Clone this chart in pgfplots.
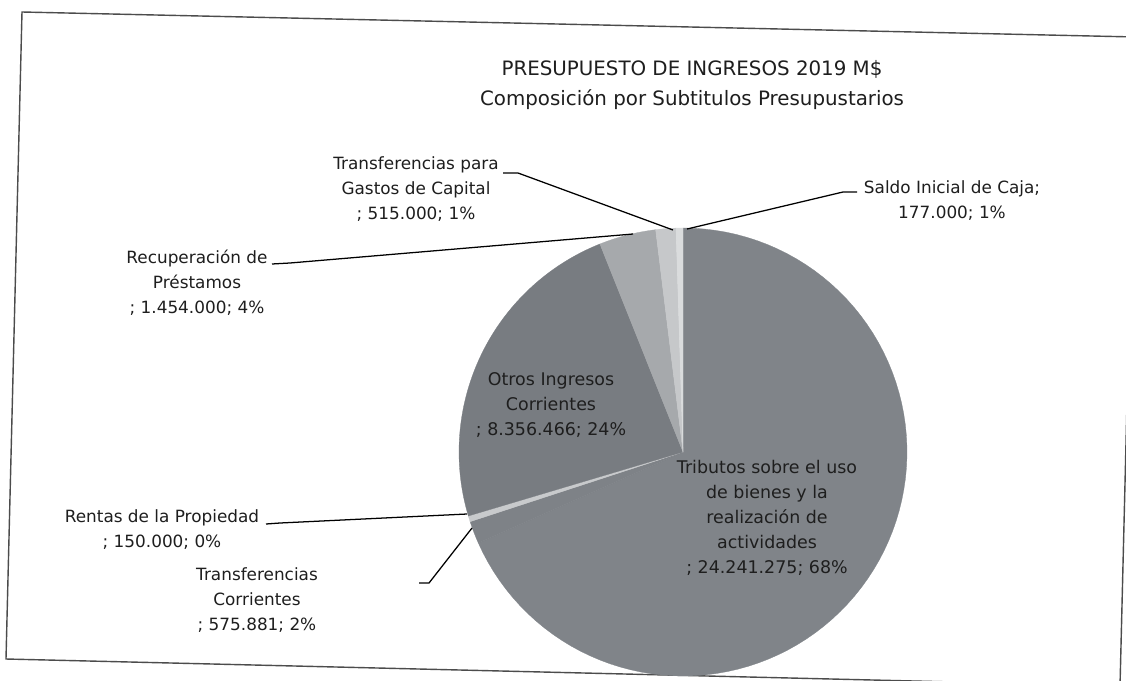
\documentclass[border=0pt]{standalone}
\usepackage{pgfplots}
\usepackage{pgfplotstable}
\pgfplotsset{compat=1.18}
\usepackage{fontspec}
\setmainfont{DejaVu Sans}

\definecolor{cTrib}{RGB}{128,132,137}
\definecolor{cTC}{RGB}{126,130,135}
\definecolor{cRentas}{RGB}{200,202,204}
\definecolor{cOtros}{RGB}{120,124,129}
\definecolor{cRecup}{RGB}{166,169,172}
\definecolor{cTCap}{RGB}{198,200,202}
\definecolor{cSaldo}{RGB}{218,220,221}
\definecolor{txt}{RGB}{30,30,30}

% values in millions of M$
\pgfplotstableread{
name value
Tributos 24.241275
TransfCorr 0.575881
Rentas 0.150000
Otros 8.356466
Recup 1.454000
TransfCap 0.515000
Saldo 0.177000
}\piedata

\newcommand\slice[3]{%
  \addplot[fill=#3, draw=#3, line width=0.2pt, domain=#2:#1, samples=90, variable=\t]
    ({683+224*cos(\t)},{452-224*sin(\t)}) -- (axis cs:683,452) -- cycle;}

\tikzset{lab/.style={font=\fontsize{12}{17.8}\selectfont, text=txt, align=center, inner sep=0pt}}

\begin{document}
\begin{tikzpicture}
\pgfplotstablegetelem{0}{value}\of\piedata\let\vA\pgfplotsretval
\pgfplotstablegetelem{1}{value}\of\piedata\let\vB\pgfplotsretval
\pgfplotstablegetelem{2}{value}\of\piedata\let\vC\pgfplotsretval
\pgfplotstablegetelem{3}{value}\of\piedata\let\vD\pgfplotsretval
\pgfplotstablegetelem{4}{value}\of\piedata\let\vE\pgfplotsretval
\pgfplotstablegetelem{5}{value}\of\piedata\let\vF\pgfplotsretval
\pgfplotstablegetelem{6}{value}\of\piedata\let\vG\pgfplotsretval
\pgfmathsetmacro\tot{\vA+\vB+\vC+\vD+\vE+\vF+\vG}
\pgfmathsetmacro\aA{90}
\pgfmathsetmacro\aB{\aA-360*\vA/\tot}
\pgfmathsetmacro\aC{\aB-360*\vB/\tot}
\pgfmathsetmacro\aD{\aC-360*\vC/\tot}
\pgfmathsetmacro\aE{\aD-360*\vD/\tot}
\pgfmathsetmacro\aF{\aE-360*\vE/\tot}
\pgfmathsetmacro\aG{\aF-360*\vF/\tot}
\pgfmathsetmacro\aH{\aG-360*\vG/\tot}
\begin{axis}[
  width=28.15cm, height=17cm, scale only axis,
  xmin=0, xmax=1126, ymin=0, ymax=680, y dir=reverse,
  hide axis, clip=true,
]
\path[fill=white] (axis cs:0,0) rectangle (axis cs:1126,680);
% frame (slightly tilted as in the scan)
\draw[draw=black!70, line width=1pt] (axis cs:22,12) -- (axis cs:1136,37) -- (axis cs:1120,686) -- (axis cs:6,659) -- cycle;

\slice{\aA}{\aB}{cTrib}
\slice{\aB}{\aC}{cTC}
\slice{\aC}{\aD}{cRentas}
\slice{\aD}{\aE}{cOtros}
\slice{\aE}{\aF}{cRecup}
\slice{\aF}{\aG}{cTCap}
\slice{\aG}{\aH}{cSaldo}

% title
\node[lab, font=\fontsize{14.1}{21.3}\selectfont] at (axis cs:692,85) {PRESUPUESTO DE INGRESOS 2019 M\$\\Composición por Subtitulos Presupustarios};

% leader lines
\draw[black, line width=0.9pt] (axis cs:503,173) -- (axis cs:518,173) -- (axis cs:673,230);
\draw[black, line width=0.9pt] (axis cs:857,192) -- (axis cs:843,192) -- (axis cs:687,229);
\draw[black, line width=0.9pt] (axis cs:272,264) -- (axis cs:290,263) -- (axis cs:633,234);
\draw[black, line width=0.9pt] (axis cs:266,524) -- (axis cs:280,523) -- (axis cs:467,514);
\draw[black, line width=0.9pt] (axis cs:419,583) -- (axis cs:429,583) -- (axis cs:472,528);

% labels
\node[lab] at (axis cs:416,189) {Transferencias para\\Gastos de Capital\\; 515.000; 1\%};
\node[lab] at (axis cs:952,201) {Saldo Inicial de Caja;\\177.000; 1\%};
\node[lab] at (axis cs:197,283) {Recuperación de\\Préstamos\\; 1.454.000; 4\%};
\node[lab] at (axis cs:162,530) {Rentas de la Propiedad\\; 150.000; 0\%};
\node[lab] at (axis cs:257,600) {Transferencias\\Corrientes\\; 575.881; 2\%};
\node[lab, font=\fontsize{12.4}{17.8}\selectfont] at (axis cs:551,405) {Otros Ingresos\\Corrientes\\; 8.356.466; 24\%};
\node[lab, font=\fontsize{12.4}{17.8}\selectfont] at (axis cs:767,518) {Tributos sobre el uso\\de bienes y la\\realización de\\actividades\\; 24.241.275; 68\%};
\end{axis}
\end{tikzpicture}
\end{document}
